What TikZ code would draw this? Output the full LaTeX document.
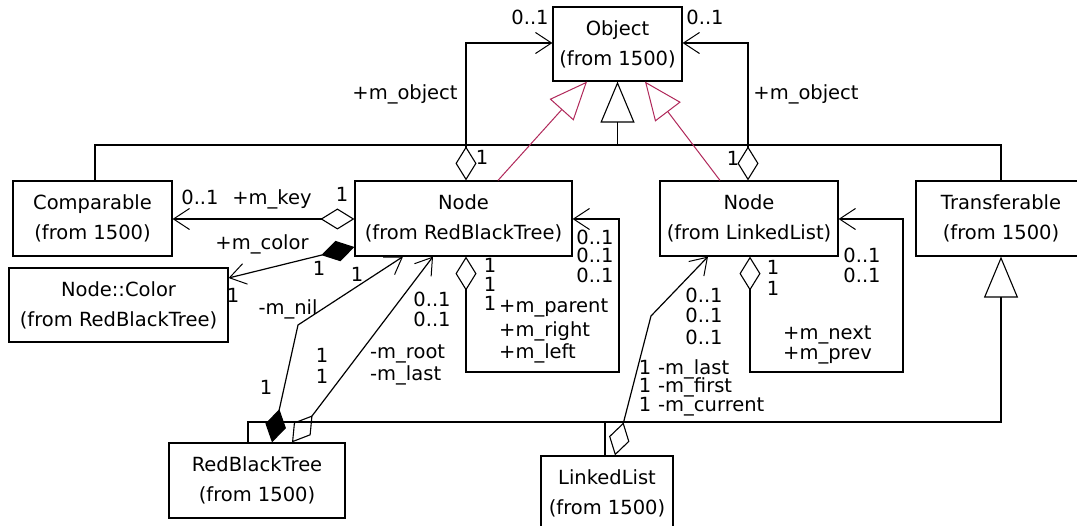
\documentclass[tikz,border=0pt]{standalone}
\usepackage{fontspec}
\setmainfont{DejaVu Sans}
\usetikzlibrary{arrows.meta}
\definecolor{umlred}{RGB}{176,40,90}
\begin{document}
\begin{tikzpicture}[x=1pt,y=-1pt,
  every node/.style={inner sep=0pt,font=\fontsize{19.5}{19.5}\selectfont},
  cls/.style={draw,line width=1.2pt,rectangle,align=center,font=\fontsize{19.5}{30}\selectfont},
  ln/.style={line width=1.2pt},
  lb/.style={anchor=base},
  lbw/.style={anchor=base west},
  ubarb/.tip={Straight Barb[length=16pt,width=21pt,line width=1pt]},
  odia/.tip={Diamond[open,length=34pt,width=21pt,line width=1.1pt]},
  fdia/.tip={Diamond[length=34pt,width=21pt]},
  gtri/.tip={Triangle[open,length=41pt,width=34pt,line width=1.1pt]},
  rtri/.tip={Triangle[open,length=38pt,width=32pt,line width=1pt]}
]
\useasboundingbox (0,0) rectangle (1077,526);
\fill[white] (0,0) rectangle (1077,526);

% classes
\node[cls,minimum width=129pt,minimum height=74pt] (obj) at (617.5,44) {Object\\(from 1500)};
\node[cls,minimum width=159pt,minimum height=75pt] (comp) at (92.5,218.5) {Comparable\\(from 1500)};
\node[cls,minimum width=219pt,minimum height=74pt] (col) at (118.5,305) {Node::Color\\(from RedBlackTree)};
\node[cls,minimum width=217pt,minimum height=75pt] (nrbt) at (463.5,218.5) {Node\\(from RedBlackTree)};
\node[cls,minimum width=178pt,minimum height=75pt] (nll) at (749,218.5) {Node\\(from LinkedList)};
\node[cls,minimum width=170pt,minimum height=75pt] (trans) at (1001,218.5) {Transferable\\(from 1500)};
\node[cls,minimum width=176pt,minimum height=75pt] (rbt) at (257,480.5) {RedBlackTree\\(from 1500)};
\node[cls,minimum width=132pt,minimum height=75pt] (ll) at (607,493.5) {LinkedList\\(from 1500)};

% generalizations
\coordinate (bartop) at (617.5,145);
\coordinate (barbot) at (1001,422);
\draw[ln] (comp.north -| 95,0) -- (95,145) -- (1001,145) -- (trans.north);
\draw[ln,-{gtri}] (bartop) -- (obj.south);
\draw[ln,-{gtri}] (rbt.north -| 248,0) -- (248,422) -- (barbot) -- (trans.south);
\draw[ln] (ll.north -| 605,0) -- (605,422);

% realizations (red)
\draw[line width=1pt,umlred,-{rtri}] (nrbt.north -| 498,0) -- (obj.south -| 587,0);
\draw[line width=1pt,umlred,-{rtri}] (nll.north -| 720,0) -- (obj.south -| 645,0);

% associations
\draw[ln,{odia}-{ubarb}] (nrbt.north -| 466,0) -- (466,43) -- (obj.west |- 0,43);
\draw[ln,{odia}-{ubarb}] (nll.north -| 748,0) -- (748,43) -- (obj.east |- 0,43);
\draw[ln,{odia}-{ubarb}] (nrbt.west |- 0,219) -- (comp.east |- 0,219);
\draw[ln,{fdia}-{ubarb}] (nrbt.west |- 0,247) -- (col.east |- 0,278);
\draw[ln,{fdia}-{ubarb}] (rbt.north -| 272,0) -- (298,325) -- (nrbt.south -| 403,0);
\draw[ln,{odia}-{ubarb}] (rbt.north -| 292,0) -- (nrbt.south -| 433,0);
\draw[ln,{odia}-{ubarb}] (nrbt.south -| 466,0) -- (466,372) -- (619,372) -- (619,219) -- (nrbt.east |- 0,219);
\draw[ln,{odia}-{ubarb}] (nll.south -| 750,0) -- (750,372) -- (903,372) -- (903,219) -- (nll.east |- 0,219);
\draw[ln,{odia}-{ubarb}] (ll.north -| 615,0) -- (651,316) -- (nll.south -| 708,0);

% labels
\node[lb] (t1) at (530,25) {0..1};
\node[lb] (t2) at (705,25) {0..1};
\node[lb] (t3) at (405,100) {+m\_object};
\node[lb] (t4) at (806,100) {+m\_object};
\node[lb] (t5) at (482,165) {1};
\node[lb] (t6) at (733,166) {1};
\node[lb] (t7) at (200,205) {0..1};
\node[lb] (t8) at (272,205) {+m\_key};
\node[lb] (t9) at (342,202) {1};
\node[lb] (t10) at (262,250) {+m\_color};
\node[lb] (t11) at (319,276) {1};
\node[lb] (t12) at (233,303) {1};
\node[lb] (t13) at (288,315) {-m\_nil};
\node[lb] (t14) at (357,282) {1};
\node[lb] (t15) at (266,395) {1};
\node[lb] (t16a) at (322,363) {1};
\node[lb] (t16b) at (322,384) {1};
\node[lbw] (t17a) at (370,359) {-m\_root};
\node[lbw] (t17b) at (370,381) {-m\_last};
\node[lb] (t18a) at (432,307) {0..1};
\node[lb] (t18b) at (432,327) {0..1};
\node[lb] (t19a) at (490,273) {1};
\node[lb] (t19b) at (490,292) {1};
\node[lb] (t19c) at (490,311) {1};
\node[lbw] (t20a) at (499,313) {+m\_parent};
\node[lbw] (t20b) at (499,337) {+m\_right};
\node[lbw] (t20c) at (499,359) {+m\_left};
\node[lb] (t21a) at (595,245) {0..1};
\node[lb] (t21b) at (595,263) {0..1};
\node[lb] (t21c) at (595,283) {0..1};
\node[lb] (t22a) at (773,275) {1};
\node[lb] (t22b) at (773,296) {1};
\node[lb] (t23a) at (862,263) {0..1};
\node[lb] (t23b) at (862,283) {0..1};
\node[lbw] (t24a) at (783,340) {+m\_next};
\node[lbw] (t24b) at (783,360) {+m\_prev};
\node[lb] (t25a) at (704,303) {0..1};
\node[lb] (t25b) at (704,323) {0..1};
\node[lb] (t25c) at (704,345) {0..1};
\node[lb] (t26a) at (645,375) {1};
\node[lb] (t26b) at (645,393) {1};
\node[lb] (t26c) at (645,412) {1};
\node[lbw] (t27a) at (658,375) {-m\_last};
\node[lbw] (t27b) at (658,393) {-m\_first};
\node[lbw] (t27c) at (658,412) {-m\_current};
\end{tikzpicture}
\end{document}
